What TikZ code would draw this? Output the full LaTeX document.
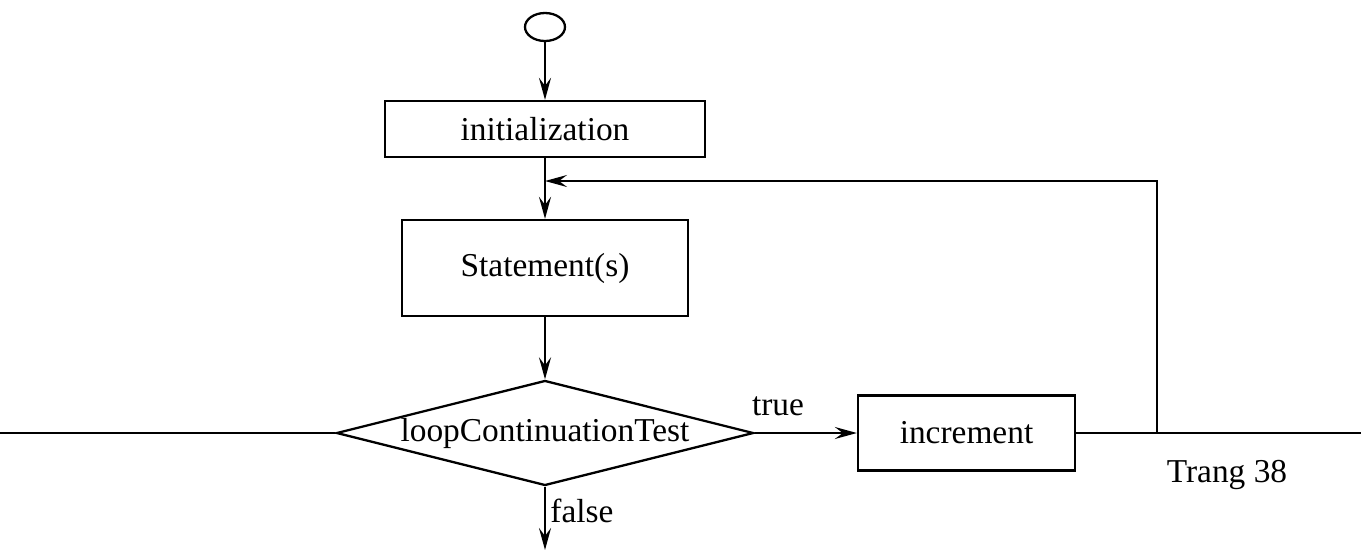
\documentclass[tikz,border=0pt]{standalone}
\usepackage{fontspec}
\setmainfont{Liberation Serif}
\usetikzlibrary{shapes.geometric,arrows.meta}

\tikzset{
  box/.style={shape=rectangle,draw=black,line width=1.3pt,font=\fontsize{19}{21}\selectfont},
  flow/.style={-{Stealth[length=4.4mm,width=2.4mm,inset=1.6mm]},line width=1.3pt},
  lbl/.style={font=\fontsize{19}{21}\selectfont}
}

\begin{document}
\begin{tikzpicture}
  \useasboundingbox (0,0) rectangle (27.22,-11.02);

  \node[shape=ellipse,draw=black,line width=1.3pt,minimum width=0.8cm,minimum height=0.56cm,inner sep=0] (start) at (10.9,-0.54) {};
  \node[box,minimum width=6.4cm,minimum height=1.12cm] (init) at (10.9,-2.58) {initialization};
  \node[box,minimum width=5.72cm,minimum height=1.92cm] (stmt) at (10.9,-5.36) {Statement(s)};
  \node[box,shape=diamond,aspect=4,inner sep=0,minimum width=8.34cm,minimum height=2.1cm] (test) at (10.9,-8.66) {loopContinuationTest};
  \node[box,minimum width=4.34cm,minimum height=1.5cm] (incr) at (19.33,-8.66) {increment};

  \node[lbl] (true) at (15.56,-8.12) {true};
  \node[lbl] (false) at (11.64,-10.22) {false};
  \node[lbl] (page) at (24.54,-9.5) {Trang 38};

  \coordinate (join) at (10.9,-3.62);
  \coordinate (corner) at (23.14,-8.66);
  \coordinate (up) at (23.14,-3.62);
  \coordinate (out) at (10.9,-11.0);
  \coordinate (footL) at (0,-8.66);
  \coordinate (footR) at (27.22,-8.66);

  \draw[flow] (start) -- (init);
  \draw[flow] (init) -- (stmt);
  \draw[flow] (stmt) -- (test);
  \draw[flow] (test) -- (incr);
  \draw[flow] (test) -- (out);
  \draw[flow] (incr.east) -- (corner) -- (up) -- (join);
  \draw[line width=1.3pt] (footL) -- (test.west);
  \draw[line width=1.3pt] (corner) -- (footR);
\end{tikzpicture}
\end{document}
